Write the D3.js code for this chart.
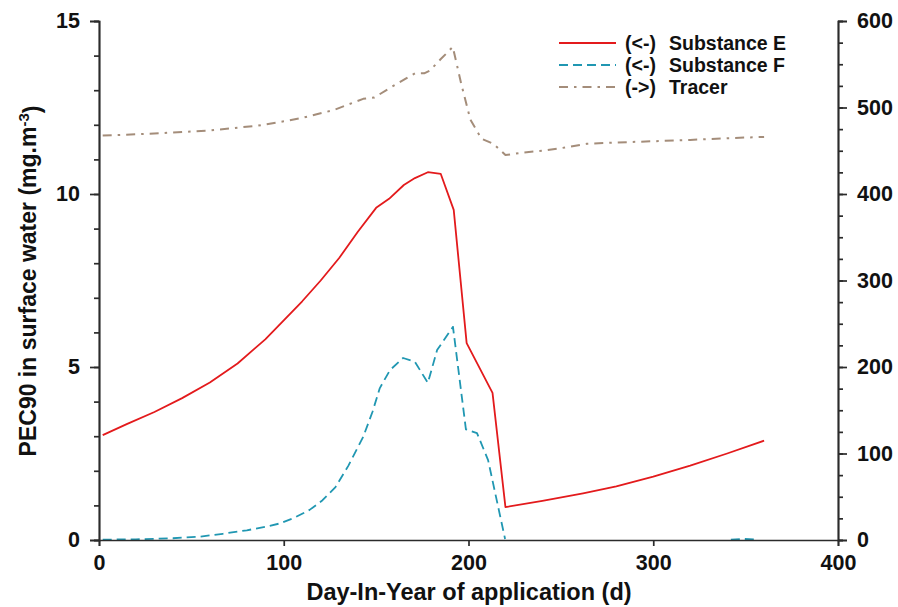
<!DOCTYPE html>
<html>
<head>
<meta charset="utf-8">
<script src="https://cdn.jsdelivr.net/npm/d3@7"></script>
<style>
  html, body { margin: 0; padding: 0; background: #fff; }
  svg { display: block; font-family: "Liberation Sans", Arial, sans-serif; }
</style>
</head>
<body>
<svg id="chart" width="898" height="607"></svg>
<script>
// Day-in-year of application for each series (null = no value drawn)
const daysE = [2, 15, 30, 45, 60, 75, 90, 100, 110, 120, 130, 140, 150, 157, 165, 171, 178, 185, 192, 199, 213, 220, 240, 262, 280, 300, 320, 340, 360];
const substanceE = [3.03, 3.35, 3.7, 4.1, 4.55, 5.1, 5.8, 6.35, 6.9, 7.5, 8.15, 8.9, 9.6, 9.86, 10.26, 10.46, 10.63, 10.58, 9.54, 5.69, 4.25, 0.95, 1.13, 1.35, 1.55, 1.83, 2.15, 2.5, 2.87];

const daysF = [2, 20, 40, 55, 67, 80, 90, 98, 106, 114, 121, 128, 135, 143, 148, 152, 157.5, 164.6, 171, 178, 183, 191.6, 198.6, 204.6, 210.6, 219.8, 280, 342, 349, 356];
const substanceF = [0.01, 0.02, 0.05, 0.1, 0.18, 0.28, 0.38, 0.48, 0.65, 0.87, 1.15, 1.53, 2.15, 2.98, 3.7, 4.39, 4.91, 5.26, 5.15, 4.54, 5.49, 6.16, 3.2, 3.09, 2.31, 0.03, null, 0.01, 0.03, 0.01];

const daysT = [2, 20, 40, 60, 86, 100, 110, 127, 143, 149, 157, 166.5, 171, 176, 179, 185, 191.5, 196, 201, 207, 213.5, 220, 230, 240, 250, 264, 280, 300, 320, 340, 360];
const tracer = [467.5, 469, 471, 473.5, 479, 484, 488, 497, 510, 511.5, 522, 534, 539.5, 539.5, 542.5, 556, 570, 528, 486, 464, 458, 445, 448, 450, 453, 458, 459.5, 461, 462.5, 464.5, 466];

// Tick values
const xTicks = [0, 100, 200, 300, 400];
const yLeftTicks = [0, 5, 10, 15];
const yRightTicks = [0, 100, 200, 300, 400, 500, 600];

const legendItems = [
  { arrow: "(<-)", name: "Substance E", key: "E" },
  { arrow: "(<-)", name: "Substance F", key: "F" },
  { arrow: "(->)", name: "Tracer", key: "T" }
];

const styles = {
  E: { color: "#e31a1c", dash: null, width: 1.8 },
  F: { color: "#2097b2", dash: "9,5", width: 1.8 },
  T: { color: "#a48d7a", dash: "9,6,2.5,6", width: 2 }
};

const svg = d3.select("#chart");
const plotLeft = 99, plotRight = 838, plotTop = 21, plotBottom = 540;

const x = d3.scaleLinear().domain([0, 400]).range([plotLeft, plotRight]);
const yL = d3.scaleLinear().domain([0, 15]).range([plotBottom, plotTop]);
const yR = d3.scaleLinear().domain([0, 600]).range([plotBottom, plotTop]);

const axisColor = "#2b2b2b";

function drawLine(days, vals, yScale, st) {
  const line = d3.line()
    .defined(d => d != null)
    .x((d, i) => x(days[i]))
    .y(d => yScale(d));
  svg.append("path")
    .datum(vals)
    .attr("d", line)
    .attr("fill", "none")
    .attr("stroke", st.color)
    .attr("stroke-width", st.width)
    .attr("stroke-dasharray", st.dash)
    .attr("stroke-linejoin", "round");
}

drawLine(daysT, tracer, yR, styles.T);
drawLine(daysF, substanceF, yL, styles.F);
drawLine(daysE, substanceE, yL, styles.E);

function styleAxis(g, fontSize) {
  g.selectAll("path, line").attr("stroke", axisColor).attr("stroke-width", 1.7);
  g.selectAll("text")
    .attr("fill", "#111")
    .style("font-size", fontSize + "px")
    .style("font-weight", "bold")
    .style("font-family", "'Liberation Sans', Arial, sans-serif");
}

// Minor ticks (drawn first, majors on top)
const gLminor = svg.append("g").attr("transform", `translate(${plotLeft},0)`)
  .call(d3.axisLeft(yL).tickValues(d3.range(0, 16, 1)).tickSize(5).tickFormat(""));
styleAxis(gLminor, 21);
const gRminor = svg.append("g").attr("transform", `translate(${plotRight},0)`)
  .call(d3.axisRight(yR).tickValues(d3.range(0, 601, 25)).tickSize(5).tickFormat(""));
styleAxis(gRminor, 21);

const gX = svg.append("g").attr("transform", `translate(0,${plotBottom})`)
  .call(d3.axisBottom(x).tickValues(xTicks).tickSizeOuter(0).tickSize(6).tickPadding(9));
styleAxis(gX, 21.5);

const gL = svg.append("g").attr("transform", `translate(${plotLeft},0)`)
  .call(d3.axisLeft(yL).tickValues(yLeftTicks).tickSizeOuter(0).tickSize(9).tickPadding(10));
styleAxis(gL, 21.5);

const gR = svg.append("g").attr("transform", `translate(${plotRight},0)`)
  .call(d3.axisRight(yR).tickValues(yRightTicks).tickSizeOuter(0).tickSize(9).tickPadding(10));
styleAxis(gR, 21.5);

// Axis titles
svg.append("text")
  .attr("x", 469)
  .attr("y", 600)
  .attr("text-anchor", "middle")
  .style("font-size", "23.5px")
  .style("font-weight", "bold")
  .attr("fill", "#111")
  .text("Day-In-Year of application (d)");

const yTitle = svg.append("text")
  .attr("transform", "translate(36,281) rotate(-90)")
  .attr("text-anchor", "middle")
  .style("font-size", "23px")
  .style("font-weight", "bold")
  .attr("fill", "#111");
yTitle.append("tspan").text("PEC90 in surface water (mg.m");
yTitle.append("tspan").attr("dy", "-0.5em").style("font-size", "15px").text("-3");
yTitle.append("tspan").attr("dy", "0.5em").text(")");

// Legend
const legend = svg.append("g");
legendItems.forEach((item, i) => {
  const yy = 43 + i * 22;
  const st = styles[item.key];
  legend.append("line")
    .attr("x1", 559).attr("x2", 616)
    .attr("y1", yy).attr("y2", yy)
    .attr("stroke", st.color)
    .attr("stroke-width", st.width)
    .attr("stroke-dasharray", st.dash);
  const t = legend.append("text")
    .attr("y", yy)
    .attr("dy", "0.35em")
    .style("font-size", "19.5px")
    .style("font-weight", "bold")
    .attr("fill", "#111");
  t.append("tspan").attr("x", 625).text(item.arrow);
  t.append("tspan").attr("x", 669).text(item.name);
});
</script>
</body>
</html>
